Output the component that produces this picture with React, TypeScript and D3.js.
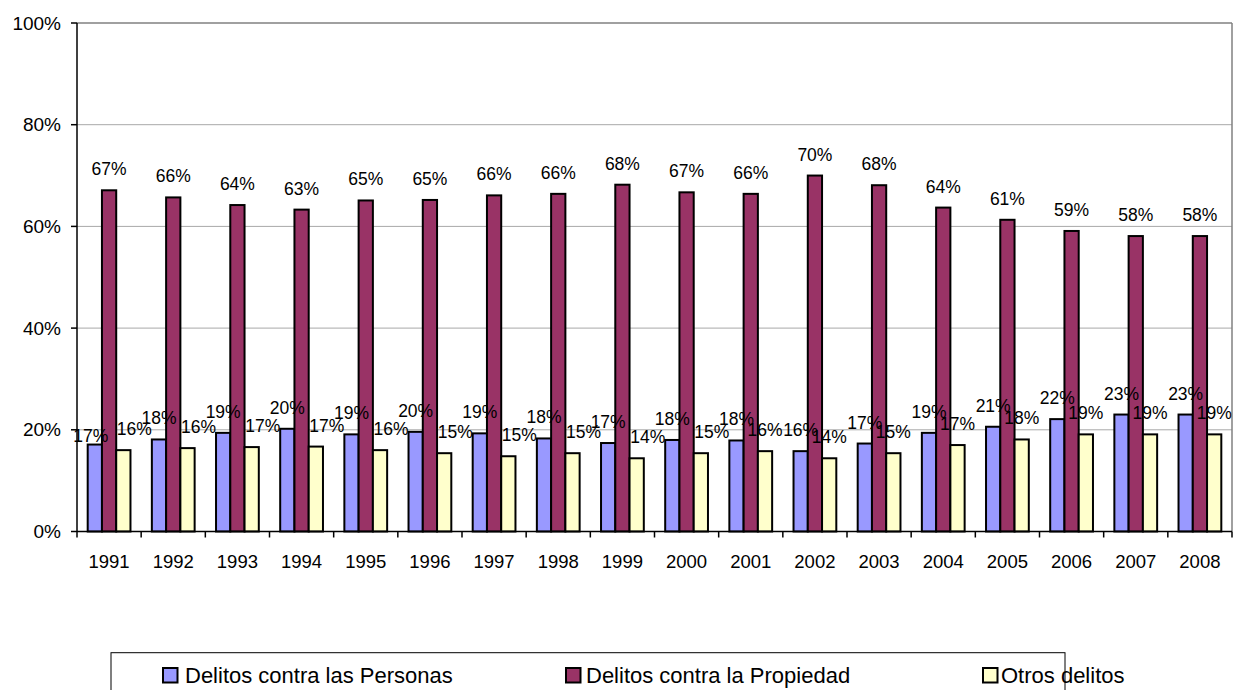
import React from "react";
import * as d3 from "d3";

const years = ["1991","1992","1993","1994","1995","1996","1997","1998","1999","2000","2001","2002","2003","2004","2005","2006","2007","2008"];
const personas = [17.1,18.1,19.4,20.2,19.1,19.6,19.3,18.3,17.4,18.0,17.9,15.8,17.3,19.4,20.6,22.1,23.0,23.0];
const propiedad = [67.1,65.7,64.2,63.3,65.1,65.2,66.1,66.4,68.2,66.7,66.4,70.0,68.1,63.7,61.3,59.1,58.1,58.1];
const otros = [16.0,16.4,16.6,16.7,16.0,15.4,14.8,15.4,14.4,15.4,15.8,14.4,15.4,17.0,18.1,19.1,19.1,19.1];
const seriesNames = ["Delitos contra las Personas","Delitos contra la Propiedad","Otros delitos"];
const seriesColors = ["#9999FF","#993366","#FFFFCC"];
const yTicks = [0,20,40,60,80,100];

const W = 1233, H = 690;
const L = 77, R = 1232, T = 23, B = 531.5;
const FONT = "'Liberation Sans', Arial, sans-serif";

export default function App() {
  const values = [personas, propiedad, otros];
  const x0 = d3.scaleBand<string>().domain(years).range([L, R]).padding(0);
  const bw = x0.bandwidth();
  const gap = bw / 4.5 * 0.75;
  const x1 = d3.scaleBand<number>().domain([0,1,2]).range([gap, bw - gap]).padding(0);
  const y = d3.scaleLinear().domain([0,100]).range([B, T]);
  const boundaries = d3.range(years.length + 1).map(i => L + i * bw);

  const legendItems = [
    { sq: 163, tx: 185 },
    { sq: 566, tx: 586 },
    { sq: 983, tx: 1001 },
  ];

  return (
    <svg width={W} height={H} style={{ position: "absolute", left: 0, top: 0, background: "#fff" }} fontFamily={FONT}>
      <rect x={0} y={0} width={W} height={H} fill="#fff" />
      {yTicks.filter(t => t > 0).map(t => (
        <line key={t} x1={L} x2={R} y1={y(t)} y2={y(t)} stroke={t === 100 ? "#808080" : "#A8A8A8"} strokeWidth={t === 100 ? 1.5 : 1} />
      ))}
      <line x1={R} x2={R} y1={T} y2={B} stroke="#808080" strokeWidth={1.5} />
      {years.map((yr, i) => (
        <g key={yr} transform={`translate(${x0(yr)},0)`}>
          {values.map((vals, s) => (
            <rect key={s} x={x1(s)} y={y(vals[i])} width={x1.bandwidth()} height={B - y(vals[i])}
              fill={seriesColors[s]} stroke="#000" strokeWidth={2} />
          ))}
        </g>
      ))}
      {years.map((yr, i) => (
        <g key={"l" + yr}>
          {values.map((vals, s) => {
            let dx = 0, dy = 0;
            if (s === 2 && i < 10) dx = 11;
            if (s === 0 && i === 0) { dx = -4; dy = 12; }
            const cx = (x0(yr) as number) + (x1(s) as number) + x1.bandwidth() / 2 + dx;
            return (
              <text key={s} x={cx} y={y(vals[i]) - 15 + dy} textAnchor="middle" fontSize={17.5} fill="#000">
                {Math.round(vals[i])}%
              </text>
            );
          })}
        </g>
      ))}
      <line x1={L} x2={L} y1={T} y2={B} stroke="#000" strokeWidth={1.5} />
      <line x1={L} x2={R} y1={B} y2={B} stroke="#000" strokeWidth={1.5} />
      {yTicks.map(t => (
        <g key={"yt" + t}>
          <line x1={71} x2={L} y1={y(t)} y2={y(t)} stroke="#000" strokeWidth={1.5} />
          <text x={61} y={y(t) + 6.5} textAnchor="end" fontSize={19} fill="#000">{t}%</text>
        </g>
      ))}
      {boundaries.map((bx, i) => (
        <line key={"xt" + i} x1={bx} x2={bx} y1={B} y2={B + 6} stroke="#000" strokeWidth={1.5} />
      ))}
      {years.map(yr => (
        <text key={"x" + yr} x={(x0(yr) as number) + bw / 2} y={568} textAnchor="middle" fontSize={18.5} fill="#000">{yr}</text>
      ))}
      <rect x={111} y={652.7} width={1065 - 111} height={60} fill="#fff" stroke="#000" strokeWidth={1} />
      {legendItems.map((it, s) => (
        <g key={"lg" + s}>
          <rect x={it.sq} y={668} width={14.5} height={14.5} fill={seriesColors[s]} stroke="#000" strokeWidth={2} />
          <text x={it.tx} y={682.5} fontSize={22} fill="#000">{seriesNames[s]}</text>
        </g>
      ))}
    </svg>
  );
}
